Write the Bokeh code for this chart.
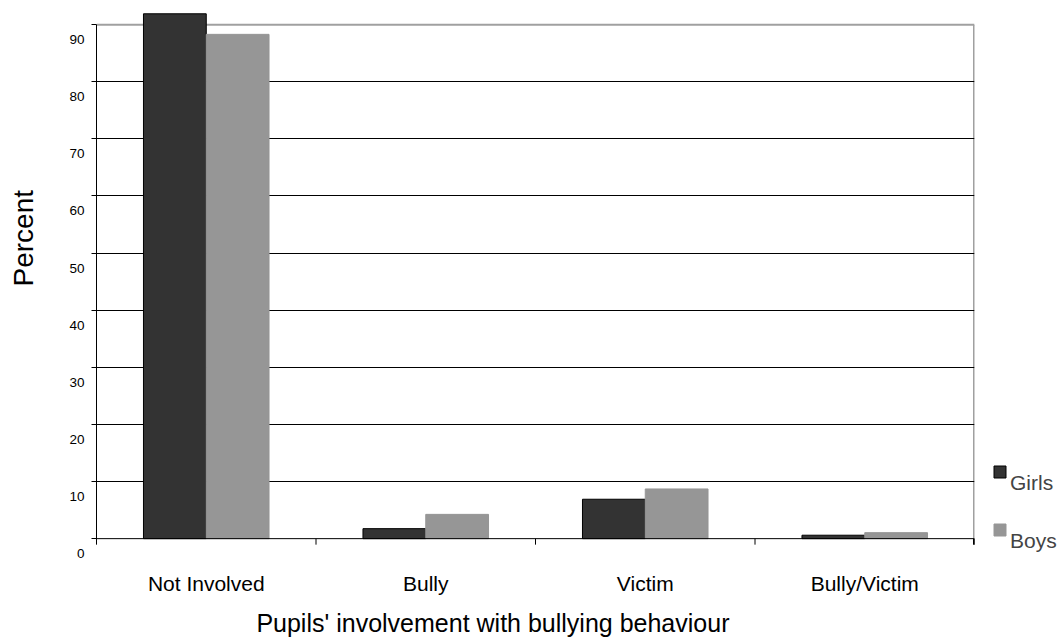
import math
from bokeh.plotting import figure
from bokeh.models import (FactorRange, Range1d, FixedTicker, CategoricalAxis, LinearAxis,
                          ColumnDataSource, Label, Span, Legend, LegendItem)
from bokeh.transform import dodge
from bokeh.embed import file_html
from bokeh.resources import INLINE

# ---- data ----
categories = ["Not Involved", "Bully", "Victim", "Bully/Victim"]
girls = [91.9, 1.75, 6.9, 0.6]
boys = [88.3, 4.25, 8.7, 1.05]
series_names = ["Girls", "Boys"]
y_ticks = [0, 10, 20, 30, 40, 50, 60, 70, 80, 90]
y_tick_labels = ["0", "10", "20", "30", "40", "50", "60", "70", "80", "90"]
y_title = "Percent"
x_title = "Pupils' involvement with bullying behaviour"

FONT = "Liberation Sans"
GIRLS_COLOR = "#333333"
BOYS_COLOR = "#969696"
BORDER_GRAY = "#a0a0a0"

# layout constants
PX_PER_UNIT = 514 / 90          # vertical scale (pixels per percent)
LABEL_DROP = 15 / PX_PER_UNIT   # Excel draws value labels ~15px below their tick
TICK_LEN = 6 / PX_PER_UNIT      # length of category-edge ticks
FRAME_H = 545
Y_START = -(LABEL_DROP + 0.5)
Y_END = Y_START + FRAME_H / PX_PER_UNIT

src = ColumnDataSource(dict(cat=categories, girls=girls, boys=boys))

x_range = FactorRange(factors=categories, range_padding=0, factor_padding=0)
p = figure(x_range=x_range, y_range=Range1d(Y_START, Y_END),
           frame_width=878, frame_height=FRAME_H,
           min_border_left=96, min_border_right=83, min_border_top=11, min_border_bottom=83,
           x_axis_location=None, y_axis_location="left",
           toolbar_location=None, output_backend="svg")
p.outline_line_color = None
p.background_fill_color = "white"
p.border_fill_color = "white"
p.xgrid.visible = False

# gridlines
p.ygrid.ticker = FixedTicker(ticks=y_ticks[1:-1])
p.ygrid.grid_line_color = "black"
p.ygrid.grid_line_width = 1

# top / right border of the plot area
p.add_layout(Span(location=y_ticks[-1], dimension="width", line_color=BORDER_GRAY,
                  line_width=2, level="underlay"))
n_edges = len(categories)
p.segment(x0=[n_edges], x1=[n_edges], y0=[0], y1=[y_ticks[-1]],
          line_color=BORDER_GRAY, line_width=3, level="underlay")

# bars
bw = 0.286
r_g = p.vbar(x=dodge("cat", -bw / 2, range=p.x_range), top="girls", width=bw, source=src,
             fill_color=GIRLS_COLOR, line_color="black", line_width=1)
r_b = p.vbar(x=dodge("cat", bw / 2, range=p.x_range), top="boys", width=bw, source=src,
             fill_color=BOYS_COLOR, line_color=BOYS_COLOR, line_width=1)

# category axis line at 0 with ticks on the category edges
edges = list(range(n_edges + 1))
p.add_layout(Span(location=0, dimension="width", line_color="black", line_width=1))
p.segment(x0=edges, x1=edges, y0=[0] * len(edges), y1=[-TICK_LEN] * len(edges),
          line_color="black", line_width=1)
p.segment(x0=[n_edges], x1=[n_edges], y0=[0], y1=[-TICK_LEN],
          line_color="black", line_width=3)

# y axis: ticks only
ya = p.yaxis[0]
ya.ticker = FixedTicker(ticks=y_ticks)
ya.bounds = (-TICK_LEN, y_ticks[-1])
ya.axis_line_color = "black"
ya.major_tick_line_color = "black"
ya.major_tick_out = 5
ya.major_tick_in = 0
ya.minor_tick_line_color = None
ya.major_label_text_color = None
ya.major_label_text_font_size = "1px"
ya.major_label_standoff = 0

# y tick labels: second axis on a range shifted so labels sit below their ticks
p.extra_y_ranges = {"labels": Range1d(Y_START + LABEL_DROP, Y_END + LABEL_DROP)}
lab_axis = LinearAxis(y_range_name="labels", ticker=FixedTicker(ticks=y_ticks),
                      major_label_overrides={t: l for t, l in zip(y_ticks, y_tick_labels)})
lab_axis.axis_line_color = None
lab_axis.major_tick_line_color = None
lab_axis.minor_tick_line_color = None
lab_axis.major_tick_out = 0
lab_axis.major_tick_in = 0
lab_axis.major_label_standoff = 7
lab_axis.major_label_text_font = FONT
lab_axis.major_label_text_font_size = "13.5px"
lab_axis.major_label_text_color = "black"
p.add_layout(lab_axis, "left")

cat_axis = CategoricalAxis()
cat_axis.axis_line_color = None
cat_axis.major_tick_line_color = None
cat_axis.minor_tick_line_color = None
cat_axis.major_tick_out = 0
cat_axis.major_label_standoff = 15
cat_axis.major_label_text_font = FONT
cat_axis.major_label_text_font_size = "21px"
cat_axis.major_label_text_color = "black"
p.add_layout(cat_axis, "below")

# axis titles
p.add_layout(Label(x=1.806, y=0, y_offset=-84, text=x_title, text_align="center",
                   text_baseline="middle", text_font=FONT, text_font_size="25px",
                   text_color="black"), "below")
p.add_layout(Label(x=0, y=52.6, x_offset=-73.5, text=y_title, angle=math.pi / 2,
                   text_align="center", text_baseline="middle", text_font=FONT,
                   text_font_size="28px", text_color="black"), "left")

# legend (Excel places each label below-right of its swatch)
legend = Legend(items=[LegendItem(label="\n" + series_names[0], renderers=[r_g]),
                       LegendItem(label="\n" + series_names[1], renderers=[r_b])],
                location=(18, 3), orientation="vertical",
                glyph_width=15, glyph_height=15, label_standoff=3, spacing=10,
                padding=0, margin=0, border_line_color=None, background_fill_color=None,
                label_text_font=FONT, label_text_font_size="21px",
                label_text_line_height=1.6)
p.add_layout(legend, "right")

open("out.html", "w").write(file_html(p, INLINE))
